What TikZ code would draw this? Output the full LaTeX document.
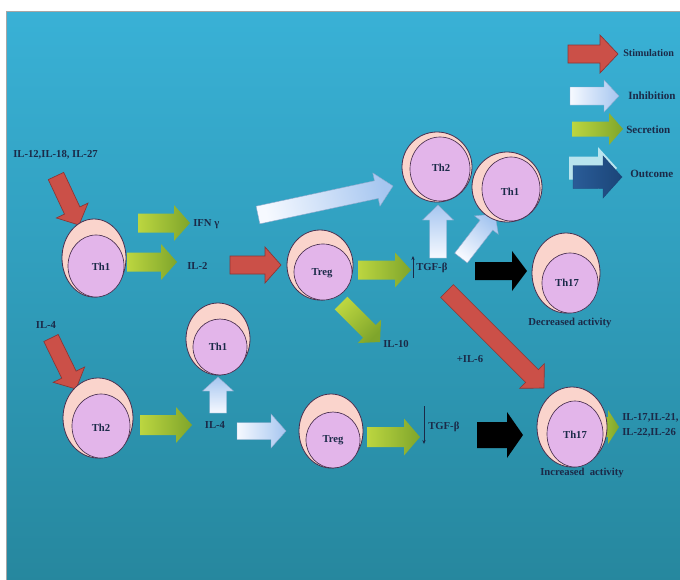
\documentclass[tikz,border=0pt]{standalone}
\usepackage{fontspec}
\setmainfont{Liberation Serif}
\usetikzlibrary{calc,arrows.meta,shapes.geometric}
\definecolor{navy}{HTML}{1B2A48}
\definecolor{bgtop}{HTML}{39B1D6}
\definecolor{bgbot}{HTML}{26879E}
\definecolor{arred}{HTML}{CB5048}
\definecolor{arredd}{HTML}{8B3535}
\definecolor{gA}{HTML}{BCD640}
\definecolor{gB}{HTML}{7FA52B}
\definecolor{bA}{HTML}{F6F9FF}
\definecolor{bB}{HTML}{A6C6F0}
\definecolor{bD}{HTML}{8FA9CC}
\definecolor{dbA}{HTML}{2A5C98}
\definecolor{dbB}{HTML}{1B4578}
\definecolor{pale}{HTML}{B9E4EE}
\definecolor{pinkc}{HTML}{FAD4CC}
\definecolor{lav}{HTML}{E3B5EA}
\definecolor{celld}{HTML}{4A3050}
\newcommand{\barrow}[6]{%
  \coordinate (bT) at #2; \coordinate (bP) at #3;
  \coordinate (bN) at ($(bP)!0.75*#6pt!(bT)$);
  \path[#1] ($(bT)!0.375*#4pt!90:(bP)$) -- ($(bN)!0.375*#4pt!-90:(bT)$)
    -- ($(bN)!0.375*#5pt!-90:(bT)$) -- (bP) -- ($(bN)!0.375*#5pt!90:(bT)$)
    -- ($(bN)!0.375*#4pt!90:(bT)$) -- ($(bT)!0.375*#4pt!-90:(bP)$) -- cycle;}
\begin{document}
\begin{tikzpicture}[x=0.75pt,y=-0.75pt,
  redar/.style={fill=arred, draw=arredd, line width=0.5pt},
  grnar/.style={left color=gA, right color=gB, shading angle=#1},
  grnar/.default=90,
  bluar/.style={left color=bA, right color=bB, draw=bD, line width=0.3pt, shading angle=#1},
  bluar/.default=90,
  blkar/.style={fill=black},
  cello/.style={ellipse, draw=celld, line width=0.6pt, fill=pinkc, inner sep=0pt},
  celli/.style={ellipse, draw=celld, line width=0.5pt, fill=lav, inner sep=0pt},
  lbl/.style={font=\fontsize{8}{9}\selectfont\bfseries, text=navy, inner sep=0pt},
  leg/.style={font=\fontsize{8.3}{9}\selectfont\bfseries, text=navy, inner sep=0pt, anchor=west},
  thin/.style={draw=navy, line width=0.5pt, -{Stealth[length=3pt,width=2.5pt]}}]
\useasboundingbox (0,0) rectangle (680,579);
\clip (0,0) rectangle (680,579);
\fill[white] (0,0) rectangle (680,579);
\shade[top color=bgtop, bottom color=bgbot, draw=gray!70, line width=0.4pt] (6,11) rectangle (684,583);

% block arrows
\barrow{redar}{(56,176)}{(79,225)}{17}{35}{16}
\barrow{grnar}{(138,223)}{(190,223)}{19}{36}{16}
\barrow{grnar}{(127,262)}{(177,262)}{19}{36}{16}
\barrow{redar}{(230,265)}{(281,265)}{18}{36}{16}
\barrow{bluar=102}{(258,215)}{(393,186)}{18}{34}{17}
\barrow{grnar}{(358,270)}{(411,270)}{19}{35}{16}
\barrow{bluar=180}{(438,258)}{(438,205)}{17}{31}{15}
\barrow{bluar=142}{(461,258)}{(495,214)}{16}{30}{14}
\barrow{blkar}{(475,271)}{(527,271)}{18}{40}{15}
\barrow{grnar=45}{(341,303)}{(380,342)}{18}{33}{15}
\barrow{redar}{(447,291)}{(544,388)}{18}{35}{17}
\barrow{redar}{(51,338)}{(76,389)}{16}{35}{16}
\barrow{grnar}{(140,425)}{(192,425)}{20}{36}{16}
\barrow{bluar=180}{(218,413)}{(218,377)}{17}{31}{14}
\barrow{bluar}{(237,431)}{(286,431)}{17}{34}{15}
\barrow{grnar}{(367,437)}{(420,437)}{20}{37}{16}
\barrow{blkar}{(477,435)}{(523,435)}{26}{46}{16}
\barrow{grnar}{(590,427)}{(619,427)}{20}{34}{11}
% legend arrows
\barrow{redar}{(568,54)}{(618,54)}{18}{38}{18}
\barrow{bluar}{(570,96)}{(619,96)}{18}{32}{15}
\barrow{grnar}{(572,129)}{(623,129)}{15}{32}{14}
\barrow{fill=pale}{(569,168)}{(617,168)}{23}{42}{19}
\barrow{left color=dbA, right color=dbB, draw=dbB, line width=0.3pt}{(573,177)}{(622,177)}{23}{42}{19}

% cells
\node[cello, minimum width=48pt, minimum height=58.5pt] (A) at (94,258) {};
\node[celli, minimum width=42pt, minimum height=46.5pt] (Ai) at (96,266) {};
\node[lbl] (Al) at (101,267) {Th1};

\node[cello, minimum width=49.5pt, minimum height=52.5pt] (B) at (320,265) {};
\node[celli, minimum width=43.5pt, minimum height=42pt] (Bi) at (323,272) {};
\node[lbl] (Bl) at (322,273) {Treg};

\node[cello, minimum width=52.5pt, minimum height=52.5pt] (C) at (437,167) {};
\node[celli, minimum width=45pt, minimum height=48pt] (Ci) at (440,169) {};
\node[lbl] (Cl) at (441,168) {Th2};

\node[cello, minimum width=52.5pt, minimum height=52.5pt] (D) at (507,187) {};
\node[celli, minimum width=43.5pt, minimum height=48pt] (Di) at (511,189) {};
\node[lbl] (Dl) at (510,192) {Th1};

\node[cello, minimum width=51pt, minimum height=60pt] (E) at (566,273) {};
\node[celli, minimum width=42pt, minimum height=45pt] (Ei) at (570,283) {};
\node[lbl] (El) at (567,283) {Th17};

\node[cello, minimum width=52.5pt, minimum height=60pt] (F) at (98,418) {};
\node[celli, minimum width=43.5pt, minimum height=48pt] (Fi) at (101,426) {};
\node[lbl] (Fl) at (101,428) {Th2};

\node[cello, minimum width=48pt, minimum height=54pt] (G) at (218,339) {};
\node[celli, minimum width=40.5pt, minimum height=42pt] (Gi) at (220,347) {};
\node[lbl] (Gl) at (218,347) {Th1};

\node[cello, minimum width=48pt, minimum height=55.5pt] (H) at (331,431) {};
\node[celli, minimum width=40.5pt, minimum height=42pt] (Hi) at (333,440) {};
\node[lbl] (Hl) at (333,440) {Treg};

\node[cello, minimum width=52.5pt, minimum height=60pt] (I) at (572,427) {};
\node[celli, minimum width=42pt, minimum height=49.5pt] (Ii) at (575,434) {};
\node[lbl] (Il) at (575,435) {Th17};

% texts
\node[lbl, anchor=west] (t12) at (13,155) {IL-12,IL-18, IL-27};
\node[lbl, anchor=west] (tifn) at (193,224) {IFN γ};
\node[lbl, anchor=west] (til2) at (187,266) {IL-2};
\node[lbl, anchor=west] (ttgf1) at (416,268) {TGF-β};
\coordinate (u1s) at (413,278); \coordinate (u1e) at (413,256);
\draw[thin] (u1s) -- (u1e);
\node[lbl, anchor=west] (til10) at (383,344) {IL-10};
\node[lbl] (til6) at (470,359) {+IL-6};
\node[lbl] (tdec) at (570,323) {Decreased activity};
\node[lbl] (til4a) at (46,325) {IL-4};
\node[lbl] (til4b) at (215,425) {IL-4};
\node[lbl, anchor=west] (ttgf2) at (428,427) {TGF-β};
\coordinate (d1s) at (424,406); \coordinate (d1e) at (424,444);
\draw[thin] (d1s) -- (d1e);
\node[lbl, anchor=west] (tilA) at (622,418) {IL-17,IL-21,};
\node[lbl, anchor=west] (tilB) at (622,433) {IL-22,IL-26};
\node[lbl] (tinc) at (582,473) {Increased\ \ activity};
% legend texts
\node[leg, font=\fontsize{7.6}{9}\selectfont\bfseries] (ls) at (623,53) {Stimulation};
\node[leg] (li) at (628,96) {Inhibition};
\node[leg] (lse) at (626,130) {Secretion};
\node[leg] (lo) at (630,174) {Outcome};
\end{tikzpicture}
\end{document}
